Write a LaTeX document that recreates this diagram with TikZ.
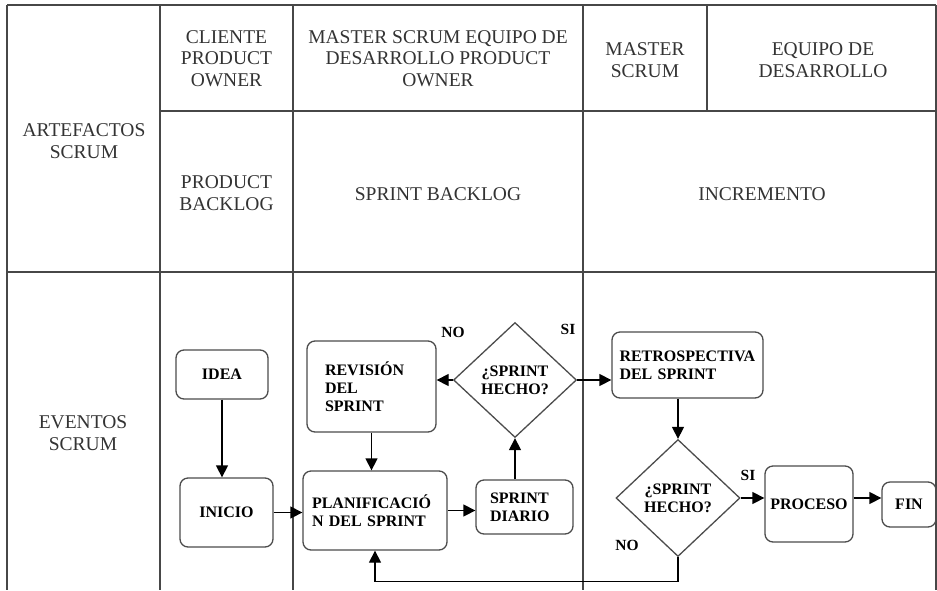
\documentclass[tikz,border=0pt]{standalone}
\usepackage{fontspec}
\setmainfont{Liberation Serif}
\usetikzlibrary{shapes.geometric,arrows.meta}

\begin{document}
\begin{tikzpicture}[
        % 像素坐标:1pt = 1px,y 轴向下
        x=1pt, y=-1pt,
        grid/.style={line width=1.6pt, black!72},
        cell/.style={align=center, text=black!80, font=\fontsize{19.5}{21.5}\selectfont},
        box/.style={draw=black!70, line width=1.3pt, rounded corners=8pt, inner sep=2pt,
            font=\bfseries\fontsize{16}{18}\selectfont},
        decision/.style={diamond, draw=black!70, line width=1.3pt, inner sep=0pt, align=center,
            font=\bfseries\fontsize{16}{18}\selectfont},
        tag/.style={font=\bfseries\fontsize{15.5}{18}\selectfont},
        % 箭头样式:实心三角
        flow/.style={-{Triangle[length=12pt,width=12pt]}, line width=1.3pt, black}
    ]

        % --- 参数定义 ---
        \def\colA{7}      % 左边框
        \def\colB{160}
        \def\colC{293}
        \def\colD{583}
        \def\colE{707}
        \def\colF{936}    % 右边框
        \def\rowA{5}      % 上边框
        \def\rowB{111}
        \def\rowC{272}
        \def\rowEnd{590}

        \useasboundingbox (0,0) rectangle (937,590);

        % --- 1. 表格线 ---
        \draw[grid] (\colA,\rowA) -- (\colF,\rowA);
        \draw[grid] (\colB,\rowB) -- (\colF,\rowB);
        \draw[grid] (\colA,\rowC) -- (\colF,\rowC);
        \foreach \x in {\colA, \colB, \colC, \colD, \colF} {
            \draw[grid] (\x,\rowA) -- (\x,\rowEnd);
        }
        \draw[grid] (\colE,\rowA) -- (\colE,\rowB);

        % --- 2. 表头与单元格文字 ---
        \node[cell] (cliente) at (226.5,58.5) {CLIENTE\\PRODUCT\\OWNER};
        \node[cell] (equipoMixto) at (438,58.5) {MASTER SCRUM EQUIPO DE\\DESARROLLO PRODUCT\\OWNER};
        \node[cell] (master) at (645,60) {MASTER\\SCRUM};
        \node[cell] (equipo) at (823,60) {EQUIPO DE\\DESARROLLO};
        \node[cell] (artefactos) at (84,141) {ARTEFACTOS\\SCRUM};
        \node[cell] (productBacklog) at (226.5,193) {PRODUCT\\BACKLOG};
        \node[cell] (sprintBacklog) at (438,194) {SPRINT BACKLOG};
        \node[cell] (incremento) at (762,194) {INCREMENTO};
        \node[cell] (eventos) at (83,433) {EVENTOS\\SCRUM};

        % --- 3. 流程图节点 ---
        \node[box, minimum width=92pt, minimum height=49pt] (idea) at (222,374.5) {IDEA};
        \node[box, minimum width=93pt, minimum height=69pt] (inicio) at (226.5,512.5) {INICIO};
        \node[box, minimum width=129pt, minimum height=91pt, text width=93pt, align=left]
            (revision) at (371.5,386.5) {REVISIÓN\\DEL\\SPRINT};
        \node[box, minimum width=144pt, minimum height=79pt, text width=126pt, align=left]
            (planificacion) at (375,510.5) {PLANIFICACIÓ\\N DEL SPRINT};
        \node[box, minimum width=97pt, minimum height=54pt, text width=69pt, align=left]
            (diario) at (524.5,507) {SPRINT\\DIARIO};
        \node[decision, minimum width=123pt, minimum height=115pt] (hecho1) at (515,380) {¿SPRINT\\HECHO?};
        \node[box, minimum width=151pt, minimum height=66pt, text width=136pt, align=left]
            (retro) at (687.5,365) {RETROSPECTIVA\\DEL SPRINT};
        \node[decision, minimum width=124pt, minimum height=117pt] (hecho2) at (678,498) {¿SPRINT\\HECHO?};
        \node[box, minimum width=88pt, minimum height=76pt] (proceso) at (809,504) {PROCESO};
        \node[box, minimum width=54pt, minimum height=45pt] (fin) at (909,504.5) {FIN};

        % 判断标签
        \node[tag] (no1) at (453,332) {NO};
        \node[tag] (si1) at (568,329) {SI};
        \node[tag] (si2) at (748,475) {SI};
        \node[tag] (no2) at (627,545) {NO};

        % --- 4. 连线 ---
        \draw[flow] (idea.south) -- (idea.south |- inicio.north);
        \draw[flow] (inicio.east) -- (inicio.east -| planificacion.west);
        \draw[flow] (revision.south) -- (revision.south |- planificacion.north);
        \draw[flow] (planificacion.east) -- (planificacion.east -| diario.west);
        \draw[flow] (hecho1.south |- diario.north) -- (hecho1.south);
        \draw[flow] (hecho1.west) -- (hecho1.west -| revision.east);
        \draw[flow] (hecho1.east) -- (hecho1.east -| retro.west);
        \draw[flow] (hecho2.north |- retro.south) -- (hecho2.north);
        \draw[flow] (hecho2.east) -- (hecho2.east -| proceso.west);
        \draw[flow] (hecho2.east -| proceso.east) -- (hecho2.east -| fin.west);
        % 回到计划
        \draw[flow] (hecho2.south) -- ++(0,24) -| (planificacion.south);

    \end{tikzpicture}
\end{document}
